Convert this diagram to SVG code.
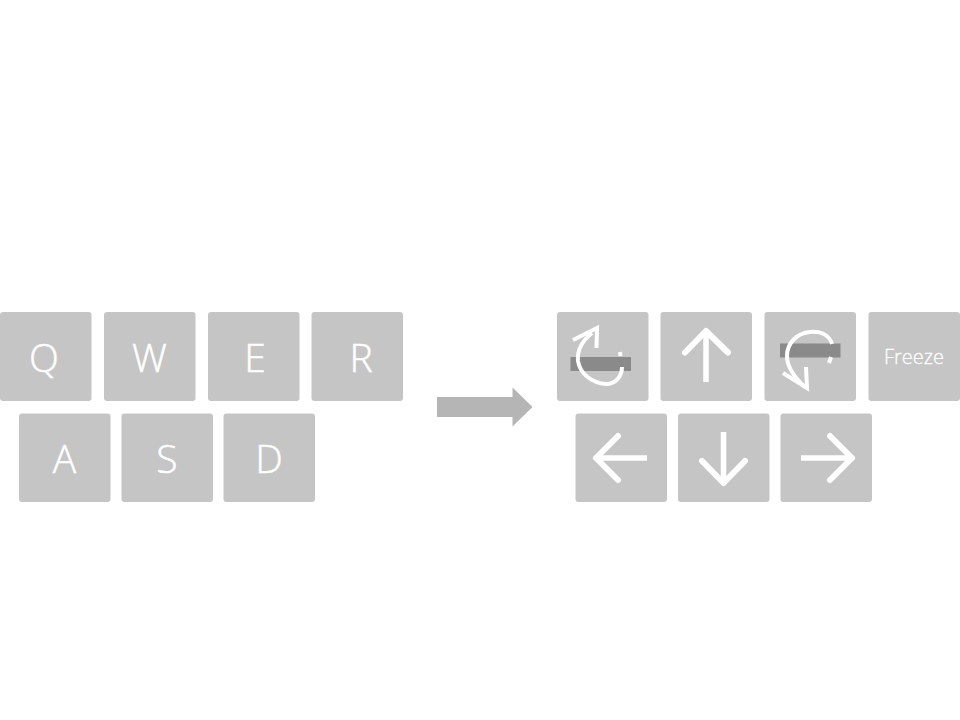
<svg xmlns="http://www.w3.org/2000/svg" width="960" height="720" viewBox="0 0 960 720">
<style>
.key{fill:#c5c5c5}
.lbl{fill:#fff;stroke:#fff;stroke-width:.5;font-family:"Open Sans","Noto Sans","Liberation Sans",sans-serif;font-weight:300;font-size:39px;text-anchor:middle}
.ic{fill:none;stroke:#fff;stroke-width:6;stroke-linecap:round;stroke-linejoin:round}
.shaft{fill:none;stroke:#fff;stroke-width:5.500}
.rot{fill:none;stroke:#fff;stroke-width:4;stroke-linecap:butt;stroke-linejoin:miter}
.bar{fill:#8a8a8a}
</style>
<rect width="960" height="720" fill="#fff"/>
<g id="q"><rect class="key" x="0" y="312" width="91.500" height="89" rx="3"/><text class="lbl" x="44" y="372">Q</text></g>
<g id="w"><rect class="key" x="104" y="312" width="91.500" height="89" rx="3"/><text class="lbl" x="149.500" y="372">W</text></g>
<g id="e"><rect class="key" x="208" y="312" width="91.500" height="89" rx="3"/><text class="lbl" x="255" y="372">E</text></g>
<g id="r"><rect class="key" x="311.500" y="312" width="91.500" height="89" rx="3"/><text class="lbl" x="361" y="372">R</text></g>
<g id="a"><rect class="key" x="19" y="413.500" width="91.500" height="88.500" rx="3"/><text class="lbl" x="64.500" y="473">A</text></g>
<g id="s"><rect class="key" x="121.500" y="413.500" width="91.500" height="88.500" rx="3"/><text class="lbl" x="167" y="473">S</text></g>
<g id="d"><rect class="key" x="223.500" y="413.500" width="91.500" height="88.500" rx="3"/><text class="lbl" x="269" y="473">D</text></g>
<g id="arrow"><path d="M437 397H512.500V387.500L532.500 407L512.500 426.500V417H437Z" fill="#b5b5b5"/></g>
<g id="rotate-left"><rect class="key" x="557" y="312" width="91.500" height="89" rx="3"/><rect class="bar" x="570.500" y="357" width="60.500" height="14"/><path class="rot" d="M573 340L597 328L596.500 348"/><path class="rot" d="M592 333C582 341 577 351 578 361C580 374 592 383 606 384C616 384 622 376 622 367"/><path class="rot" stroke-width="3" d="M620 352L620.500 356"/></g>
<g id="up"><rect class="key" x="660.500" y="312" width="91.500" height="89" rx="3"/><path class="shaft" d="M706 382V332"/><path class="ic" d="M685 352.500L706 331L728 352.500"/></g>
<g id="rotate-right"><rect class="key" x="764.500" y="312" width="91.500" height="89" rx="3"/><rect class="bar" x="780" y="343.500" width="60.500" height="14"/><path class="rot" d="M783 373L807 388L806 367"/><path class="rot" d="M805 387C795 378 787 367 787 356C787 343 797 333 810 332C822 331 830 336 832 344"/><path class="rot" stroke-width="3" d="M831 357L829 363"/></g>
<g id="freeze"><rect class="key" x="868.500" y="312" width="91.500" height="89" rx="3"/><text x="914" y="364" fill="#fff" stroke="#fff" stroke-width=".3" font-family="Open Sans, Noto Sans, sans-serif" font-weight="300" font-size="20" text-anchor="middle">Freeze</text></g>
<g id="left"><rect class="key" x="575.500" y="413.500" width="91.500" height="88.500" rx="3"/><path class="shaft" d="M647 458H597"/><path class="ic" d="M618 436L596 458L618 480"/></g>
<g id="down"><rect class="key" x="678" y="413.500" width="91.500" height="88.500" rx="3"/><path class="shaft" d="M723.500 432V482"/><path class="ic" d="M702 461L723.500 483L745 461"/></g>
<g id="right"><rect class="key" x="780.500" y="413.500" width="91.500" height="88.500" rx="3"/><path class="shaft" d="M801 458H851"/><path class="ic" d="M830 436L852 458L830 480"/></g>
</svg>
